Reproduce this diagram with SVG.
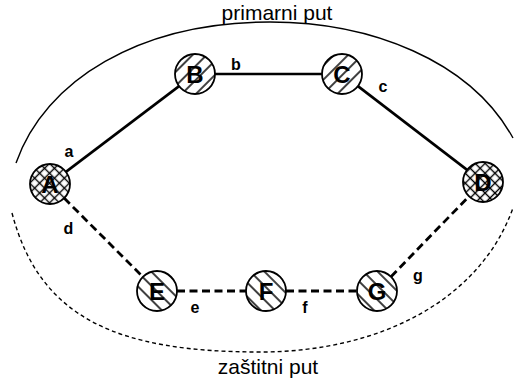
<svg xmlns="http://www.w3.org/2000/svg" width="514" height="379" viewBox="0 0 514 379">
  <style>
    .node { stroke: #000; stroke-width: 1.8; }
    .nlabel { font-family: "Liberation Sans", Arial, sans-serif; font-weight: bold; font-size: 24px; text-anchor: middle; fill: #000; }
    .elabel { font-family: "Liberation Sans", Arial, sans-serif; font-weight: bold; font-size: 16px; text-anchor: middle; fill: #000; }
    .path-label { font-family: "Liberation Sans", Arial, sans-serif; font-size: 21px; text-anchor: middle; fill: #000; }
    .working { stroke: #000; stroke-width: 2.6; fill: none; }
    .backup { stroke: #000; stroke-width: 2.8; fill: none; stroke-dasharray: 8 4.5; }
    .route { stroke: #000; stroke-width: 1.4; fill: none; }
    .route-dash { stroke: #000; stroke-width: 1.4; fill: none; stroke-dasharray: 4 3; }
  </style>
  <defs>
    <!-- "/" hatching -->
    <pattern id="hatchUp" patternUnits="userSpaceOnUse" width="10" height="10" patternTransform="rotate(-45)">
      <rect width="10" height="10" fill="#fff"/>
      <line x1="0" y1="5" x2="10" y2="5" stroke="#000" stroke-width="1.5"/>
    </pattern>
    <!-- "\" hatching -->
    <pattern id="hatchDown" patternUnits="userSpaceOnUse" width="10" height="10" patternTransform="rotate(45)">
      <rect width="10" height="10" fill="#fff"/>
      <line x1="0" y1="5" x2="10" y2="5" stroke="#000" stroke-width="1.5"/>
    </pattern>
    <!-- cross hatching -->
    <pattern id="cross" patternUnits="userSpaceOnUse" width="7" height="7" patternTransform="rotate(45)">
      <rect width="7" height="7" fill="#fff"/>
      <line x1="0" y1="3.5" x2="7" y2="3.5" stroke="#000" stroke-width="1.4"/>
      <line x1="3.5" y1="0" x2="3.5" y2="7" stroke="#000" stroke-width="1.4"/>
    </pattern>
  </defs>

  <!-- route outlines -->
  <g id="routes">
    <path class="route" d="M16,163 C45,80 140,22 270,22 C370,22 470,60 513,138"/>
    <path class="route-dash" d="M12,213 C40,320 120,352 260,352 C380,352 480,300 513,208"/>
    <text class="path-label" x="277" y="20">primarni put</text>
    <text class="path-label" x="268" y="374">zaštitni put</text>
  </g>

  <!-- links -->
  <g id="edges">
    <line class="working" x1="65.9" y1="171.9" x2="179.1" y2="86.1"/>
    <line class="working" x1="215" y1="74" x2="322" y2="74"/>
    <line class="working" x1="357.9" y1="86.1" x2="467.1" y2="169.9"/>
    <line class="backup" x1="64.1" y1="198.1" x2="142.9" y2="276.9"/>
    <line class="backup" x1="177" y1="291" x2="246" y2="291"/>
    <line class="backup" x1="286" y1="291" x2="357" y2="291"/>
    <line class="backup" x1="391" y1="276.7" x2="469" y2="196.3"/>
    <text class="elabel" x="69" y="157">a</text>
    <text class="elabel" x="236" y="70">b</text>
    <text class="elabel" x="383" y="92">c</text>
    <text class="elabel" x="68.5" y="234">d</text>
    <text class="elabel" x="195" y="313">e</text>
    <text class="elabel" x="305" y="313">f</text>
    <text class="elabel" x="418" y="281">g</text>
  </g>

  <!-- nodes -->
  <g id="node-A">
    <circle class="node" cx="50" cy="184" r="20" fill="url(#cross)"/>
    <text class="nlabel" x="50" y="192.5">A</text>
  </g>
  <g id="node-B">
    <circle class="node" cx="195" cy="74" r="20" fill="url(#hatchUp)"/>
    <text class="nlabel" x="195" y="82.5">B</text>
  </g>
  <g id="node-C">
    <circle class="node" cx="342" cy="74" r="20" fill="url(#hatchUp)"/>
    <text class="nlabel" x="342" y="82.5">C</text>
  </g>
  <g id="node-D">
    <circle class="node" cx="483" cy="182" r="20" fill="url(#cross)"/>
    <text class="nlabel" x="483" y="190.5">D</text>
  </g>
  <g id="node-E">
    <circle class="node" cx="157" cy="291" r="20" fill="url(#hatchDown)"/>
    <text class="nlabel" x="157" y="299.5">E</text>
  </g>
  <g id="node-F">
    <circle class="node" cx="266" cy="291" r="20" fill="url(#hatchDown)"/>
    <text class="nlabel" x="266" y="299.5">F</text>
  </g>
  <g id="node-G">
    <circle class="node" cx="377" cy="291" r="20" fill="url(#hatchDown)"/>
    <text class="nlabel" x="377" y="299.5">G</text>
  </g>
</svg>
